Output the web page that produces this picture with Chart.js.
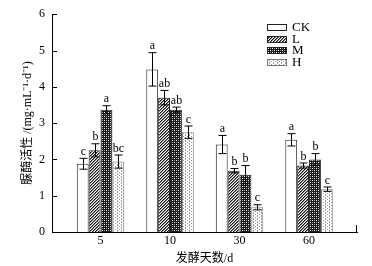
<!DOCTYPE html>
<html>
<head>
<meta charset="utf-8">
<script src="https://cdn.jsdelivr.net/npm/chart.js@4/dist/chart.umd.min.js"></script>
<style>
  body { margin: 0; background: #fff; }
  #wrap { width: 372px; height: 266px; }
</style>
</head>
<body>
<div id="wrap"><canvas id="chart_urease"></canvas></div>
<script>
// fermentation days
var days = ['5', '10', '30', '60'];
var seriesNames = ['CK', 'L', 'M', 'H'];

var ckValues = [1.88, 4.48, 2.41, 2.54];
var lValues  = [2.25, 3.70, 1.69, 1.83];
var mValues  = [3.37, 3.37, 1.58, 2.00];
var hValues  = [1.94, 2.75, 0.68, 1.18];

var ckErrors = [0.15, 0.46, 0.25, 0.17];
var lErrors  = [0.18, 0.20, 0.06, 0.07];
var mErrors  = [0.11, 0.07, 0.25, 0.16];
var hErrors  = [0.18, 0.17, 0.07, 0.06];

var ckLetters = ['c', 'a', 'a', 'a'];
var lLetters  = ['b', 'ab', 'b', 'b'];
var mLetters  = ['a', 'ab', 'b', 'b'];
var hLetters  = ['bc', 'c', 'c', 'c'];

var yTicks = [0, 1, 2, 3, 4, 5, 6];

var FONT = '"Liberation Serif", "Noto Sans CJK SC", serif';

function makePattern(w, h, draw) {
    var c = document.createElement('canvas');
    c.width = w; c.height = h;
    var g = c.getContext('2d');
    draw(g);
    return g.createPattern(c, 'repeat');
}

// L: diagonal hatching
var hatchL = makePattern(3, 3, function(g) {
    g.fillStyle = '#fff';
    g.fillRect(0, 0, 3, 3);
    for (var i = 0; i < 3; i++) {
        g.fillStyle = '#111';
        g.fillRect(i, 2 - i, 1, 1);
        g.fillStyle = '#888';
        g.fillRect((i + 1) % 3, 2 - i, 1, 1);
    }
});
// M: dark checker mesh
var hatchM = makePattern(4, 4, function(g) {
    g.fillStyle = '#1a1a1a';
    g.fillRect(0, 0, 4, 4);
    g.fillStyle = '#fff';
    g.fillRect(0, 0, 1, 1);
    g.fillRect(2, 2, 1, 1);
    g.fillStyle = '#999';
    g.fillRect(2, 0, 1, 1);
    g.fillRect(0, 2, 1, 1);
});
// H: light dotted
var hatchH = makePattern(4, 3, function(g) {
    g.fillStyle = '#fff';
    g.fillRect(0, 0, 4, 3);
    g.fillStyle = '#9a9a9a';
    g.fillRect(1, 0, 1, 1);
    g.fillRect(3, 1, 1, 1);
    g.fillRect(1, 2, 1, 1);
});

function toPoints(values) {
    return values.map(function(v, i) { return { x: i, y: v }; });
}

var errorSets = [ckErrors, lErrors, mErrors, hErrors];
var letterSets = [ckLetters, lLetters, mLetters, hLetters];

var errorBarPlugin = {
    id: 'errorBars',
    afterDatasetsDraw: function(chart) {
        var ctx = chart.ctx;
        var yScale = chart.scales.y;
        ctx.save();
        ctx.strokeStyle = '#000';
        ctx.lineWidth = 1;
        ctx.fillStyle = '#000';
        ctx.font = '12px ' + FONT;
        ctx.textAlign = 'center';
        ctx.textBaseline = 'bottom';
        chart.data.datasets.forEach(function(ds, di) {
            var meta = chart.getDatasetMeta(di);
            meta.data.forEach(function(bar, i) {
                var v = ds.data[i].y;
                var e = errorSets[di][i];
                var x = Math.round(bar.x) + 0.5;
                var yTop = yScale.getPixelForValue(v + e);
                var yBot = yScale.getPixelForValue(v - e);
                ctx.beginPath();
                ctx.moveTo(x, yTop); ctx.lineTo(x, yBot);
                ctx.moveTo(x - 4, yTop); ctx.lineTo(x + 4, yTop);
                ctx.moveTo(x - 4, yBot); ctx.lineTo(x + 4, yBot);
                ctx.stroke();
                ctx.fillText(letterSets[di][i], x, yTop - 0.5);
            });
        });
        ctx.restore();
    }
};

var axisTickPlugin = {
    id: 'innerTicks',
    afterDraw: function(chart) {
        var ctx = chart.ctx;
        var y = chart.scales.y;
        var area = chart.chartArea;
        ctx.save();
        ctx.strokeStyle = '#000';
        ctx.lineWidth = 1;
        ctx.beginPath();
        yTicks.forEach(function(t) {
            var py = Math.round(y.getPixelForValue(t)) + 0.5;
            ctx.moveTo(area.left, py);
            ctx.lineTo(area.left + 5, py);
        });
        // end mark at the right of the x axis
        ctx.moveTo(area.right - 0.5, area.bottom);
        ctx.lineTo(area.right - 0.5, area.bottom - 7);
        ctx.stroke();
        ctx.restore();
    }
};

var legendPlugin = {
    id: 'boxLegend',
    afterDraw: function(chart) {
        var ctx = chart.ctx;
        ctx.save();
        ctx.font = '13px ' + FONT;
        ctx.textBaseline = 'middle';
        ctx.textAlign = 'left';
        chart.data.datasets.forEach(function(ds, i) {
            var cy = 27 + i * 11.7;
            ctx.fillStyle = ds.backgroundColor;
            ctx.fillRect(267, Math.round(cy - 3), 19, 6);
            ctx.strokeStyle = ds.borderColor;
            ctx.lineWidth = 1;
            ctx.strokeRect(267.5, Math.round(cy - 3) + 0.5, 19, 6);
            ctx.fillStyle = '#000';
            ctx.fillText(ds.label, 292, cy + 0.5);
        });
        ctx.restore();
    }
};

var chart_urease = new Chart(document.getElementById('chart_urease'), {
    type: 'bar',
    data: {
        datasets: [
            { label: seriesNames[0], data: toPoints(ckValues), backgroundColor: '#ffffff', borderColor: '#222', borderWidth: 1 },
            { label: seriesNames[1], data: toPoints(lValues), backgroundColor: hatchL, borderColor: '#222', borderWidth: 1 },
            { label: seriesNames[2], data: toPoints(mValues), backgroundColor: hatchM, borderColor: '#222', borderWidth: 1 },
            { label: seriesNames[3], data: toPoints(hValues), backgroundColor: hatchH, borderColor: '#777', borderWidth: 1 }
        ]
    },
    options: {
        animation: false,
        responsive: true,
        maintainAspectRatio: false,
        layout: { padding: { top: 11, right: 15, left: 17, bottom: 0 } },
        datasets: {
            bar: { categoryPercentage: 0.683, barPercentage: 1.0 }
        },
        plugins: {
            legend: { display: false },
            tooltip: { enabled: false }
        },
        scales: {
            x: {
                type: 'linear',
                min: -0.698,
                max: 3.69,
                offset: false,
                grid: { display: false, drawTicks: false },
                border: { display: true, color: '#000', width: 1 },
                afterBuildTicks: function(scale) {
                    scale.ticks = days.map(function(d, i) { return { value: i }; });
                },
                afterFit: function(scale) { scale.height = 34; },
                ticks: {
                    autoSkip: false,
                    maxRotation: 0,
                    padding: 2,
                    color: '#000',
                    font: { size: 12, family: FONT },
                    callback: function(value) { return days[value]; }
                },
                title: {
                    display: true,
                    text: '发酵天数/d',
                    color: '#000',
                    padding: 0,
                    font: { size: 12, family: FONT }
                }
            },
            y: {
                type: 'linear',
                min: 0,
                max: 6,
                grid: { display: false, drawTicks: false },
                border: { display: true, color: '#000', width: 1 },
                afterFit: function(scale) { scale.width = 35; },
                ticks: {
                    stepSize: 1,
                    padding: 7,
                    color: '#000',
                    font: { size: 12, family: FONT }
                },
                title: {
                    display: true,
                    text: '脲酶活性 /(mg·mL⁻¹·d⁻¹)',
                    color: '#000',
                    font: { size: 12, family: FONT }
                }
            }
        }
    },
    plugins: [errorBarPlugin, axisTickPlugin, legendPlugin]
});
</script>
</body>
</html>
